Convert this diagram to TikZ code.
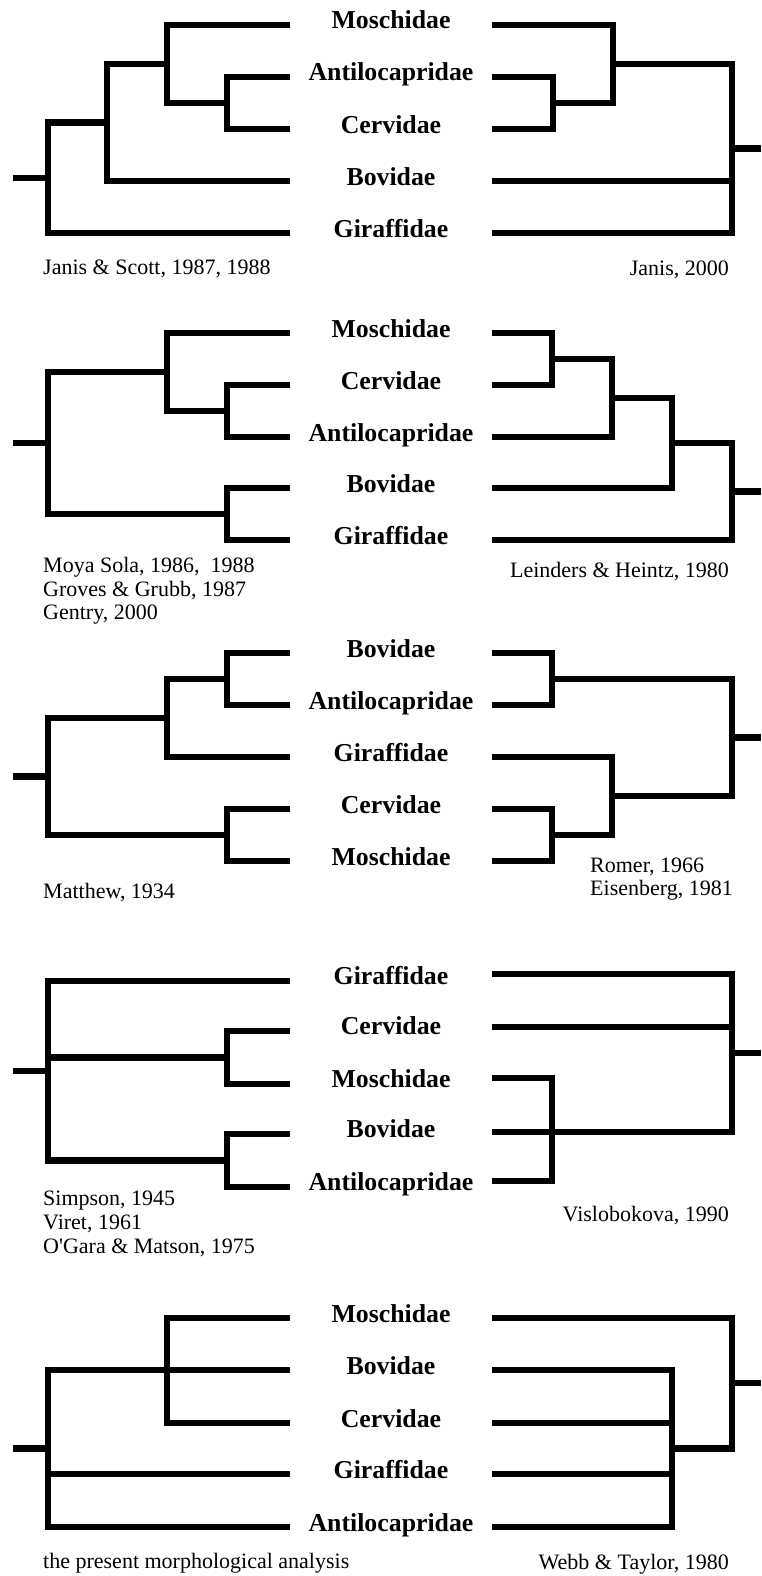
\documentclass[tikz,border=0pt]{standalone}
\usepackage{fontspec}
\setmainfont{Liberation Serif}
\tikzset{
  branch/.style={line width=6.5pt},
  taxon/.style={font=\fontsize{25.8}{30}\selectfont\bfseries,anchor=base,inner sep=0pt},
  cite/.style={font=\fontsize{22}{26}\selectfont,anchor=base west,inner sep=0pt},
  citeR/.style={cite,anchor=base east}
}

\begin{document}
\begin{tikzpicture}[x=1pt,y=-1pt]
  \useasboundingbox (0,0) rectangle (761,1576);

  % Janis & Scott / Janis
  \foreach \n/\y/\txt in {1/25/Moschidae,2/77/Antilocapridae,3/129/Cervidae,4/181/Bovidae,5/233/Giraffidae}{
    \coordinate (aL\n) at (290,\y);
    \coordinate (aR\n) at (492,\y);
    \node[taxon] (aT\n) at (391,\y+4) {\txt};
  }
  \coordinate (aL6) at (227,103);
  \coordinate (aL7) at (167,64);
  \coordinate (aL8) at (107,122.5);
  \coordinate (aL9) at (48,178);
  \coordinate (aL0) at (13,178);
  \draw[branch] (aL2) -| (aL6) |- (aL3);
  \draw[branch] (aL1) -| (aL7) |- (aL6);
  \draw[branch] (aL7) -| (aL8) |- (aL4);
  \draw[branch] (aL8) -| (aL9) |- (aL5);
  \draw[branch] (aL0) -- (aL9);
  \coordinate (aR6) at (553,103);
  \coordinate (aR7) at (613,64);
  \coordinate (aR8) at (732,148.5);
  \coordinate (aR0) at (761,148.5);
  \draw[branch] (aR2) -| (aR6) |- (aR3);
  \draw[branch] (aR1) -| (aR7) |- (aR6);
  \draw[branch] (aR7) -| (aR8) |- (aR5);
  \draw[branch] (aR4) -- (aR4 -| aR8);
  \draw[branch] (aR8) -- (aR0);
  \node[cite] (aC1) at (43,274) {Janis \& Scott, 1987, 1988};
  \node[citeR] (aC2) at (729,275) {Janis, 2000};

  % Moya Sola / Leinders & Heintz
  \foreach \n/\y/\txt in {1/333/Moschidae,2/385/Cervidae,3/437/Antilocapridae,4/488/Bovidae,5/540/Giraffidae}{
    \coordinate (bL\n) at (290,\y);
    \coordinate (bR\n) at (492,\y);
    \node[taxon] (bT\n) at (391,\y+4) {\txt};
  }
  \coordinate (bL6) at (227,411);
  \coordinate (bL7) at (167,372);
  \coordinate (bL8) at (227,514);
  \coordinate (bL9) at (48,443);
  \coordinate (bL0) at (13,443);
  \draw[branch] (bL2) -| (bL6) |- (bL3);
  \draw[branch] (bL1) -| (bL7) |- (bL6);
  \draw[branch] (bL4) -| (bL8) |- (bL5);
  \draw[branch] (bL7) -| (bL9) |- (bL8);
  \draw[branch] (bL0) -- (bL9);
  \coordinate (bR6) at (552,359);
  \coordinate (bR7) at (612,398);
  \coordinate (bR8) at (672,443);
  \coordinate (bR9) at (732,491.5);
  \coordinate (bR0) at (761,491.5);
  \draw[branch] (bR1) -| (bR6) |- (bR2);
  \draw[branch] (bR6) -| (bR7) |- (bR3);
  \draw[branch] (bR7) -| (bR8) |- (bR4);
  \draw[branch] (bR8) -| (bR9) |- (bR5);
  \draw[branch] (bR9) -- (bR0);
  \node[cite] (bC1) at (43,572) {Moya Sola, 1986,\ \ 1988};
  \node[cite] (bC2) at (43,596) {Groves \& Grubb, 1987};
  \node[cite] (bC3) at (43,619) {Gentry, 2000};
  \node[citeR] (bC4) at (729,577) {Leinders \& Heintz, 1980};

  % Matthew / Romer, Eisenberg
  \foreach \n/\y/\txt in {1/653/Bovidae,2/705/Antilocapridae,3/757/Giraffidae,4/809/Cervidae,5/861/Moschidae}{
    \coordinate (cL\n) at (290,\y);
    \coordinate (cR\n) at (492,\y);
    \node[taxon] (cT\n) at (391,\y+4) {\txt};
  }
  \coordinate (cL6) at (227,679);
  \coordinate (cL7) at (167,718);
  \coordinate (cL8) at (227,835);
  \coordinate (cL9) at (48,776.5);
  \coordinate (cL0) at (13,776.5);
  \draw[branch] (cL1) -| (cL6) |- (cL2);
  \draw[branch] (cL6) -| (cL7) |- (cL3);
  \draw[branch] (cL4) -| (cL8) |- (cL5);
  \draw[branch] (cL7) -| (cL9) |- (cL8);
  \draw[branch] (cL0) -- (cL9);
  \coordinate (cR6) at (552,679);
  \coordinate (cR7) at (552,835);
  \coordinate (cR8) at (612,796);
  \coordinate (cR9) at (732,737.5);
  \coordinate (cR0) at (761,737.5);
  \draw[branch] (cR1) -| (cR6) |- (cR2);
  \draw[branch] (cR4) -| (cR7) |- (cR5);
  \draw[branch] (cR3) -| (cR8) |- (cR7);
  \draw[branch] (cR6) -| (cR9) |- (cR8);
  \draw[branch] (cR9) -- (cR0);
  \node[cite] (cC1) at (43,898) {Matthew, 1934};
  \node[cite] (cC2) at (590,872) {Romer, 1966};
  \node[cite] (cC3) at (590,895) {Eisenberg, 1981};

  % Simpson, Viret, O'Gara & Matson / Vislobokova
  \foreach \n/\y/\z/\txt in {1/981/974/Giraffidae,2/1031/1027/Cervidae,3/1084/1078/Moschidae,4/1134/1132/Bovidae,5/1187/1181/Antilocapridae}{
    \coordinate (dL\n) at (290,\y);
    \coordinate (dR\n) at (492,\z);
    \node[taxon] (dT\n) at (391,\y+3) {\txt};
  }
  \coordinate (dL6) at (227,1057.5);
  \coordinate (dL7) at (227,1160.5);
  \coordinate (dL8) at (48,1071);
  \coordinate (dL0) at (13,1071);
  \draw[branch] (dL2) -| (dL6) |- (dL3);
  \draw[branch] (dL4) -| (dL7) |- (dL5);
  \draw[branch] (dL1) -| (dL8) |- (dL7);
  \draw[branch] (dL6) -- (dL6 -| dL8);
  \draw[branch] (dL0) -- (dL8);
  \coordinate (dR6) at (552,1132);
  \coordinate (dR7) at (732,1053);
  \coordinate (dR0) at (761,1053);
  \draw[branch] (dR3) -| (dR6) |- (dR5);
  \draw[branch] (dR1) -| (dR7) |- (dR4);
  \draw[branch] (dR2) -- (dR2 -| dR7);
  \draw[branch] (dR7) -- (dR0);
  \node[cite] (dC1) at (43,1205) {Simpson, 1945};
  \node[cite] (dC2) at (43,1229) {Viret, 1961};
  \node[cite] (dC3) at (43,1253) {O\textquotesingle Gara \& Matson, 1975};
  \node[citeR] (dC4) at (729,1221) {Vislobokova, 1990};

  % present analysis / Webb & Taylor
  \foreach \n/\y/\txt in {1/1318/Moschidae,2/1370/Bovidae,3/1423/Cervidae,4/1474/Giraffidae,5/1527/Antilocapridae}{
    \coordinate (eL\n) at (290,\y);
    \coordinate (eR\n) at (492,\y);
    \node[taxon] (eT\n) at (391,\y+4) {\txt};
  }
  \coordinate (eL6) at (167,1370);
  \coordinate (eL7) at (48,1448.5);
  \coordinate (eL0) at (13,1448.5);
  \draw[branch] (eL1) -| (eL6) |- (eL3);
  \draw[branch] (eL2) -- (eL6);
  \draw[branch] (eL6) -| (eL7) |- (eL5);
  \draw[branch] (eL4) -- (eL4 -| eL7);
  \draw[branch] (eL0) -- (eL7);
  \coordinate (eR6) at (672,1448.5);
  \coordinate (eR7) at (732,1383);
  \coordinate (eR0) at (761,1383);
  \draw[branch] (eR2) -| (eR6) |- (eR5);
  \draw[branch] (eR3) -- (eR3 -| eR6);
  \draw[branch] (eR4) -- (eR4 -| eR6);
  \draw[branch] (eR1) -| (eR7) |- (eR6);
  \draw[branch] (eR7) -- (eR0);
  \node[cite] (eC1) at (43,1568) {the present morphological analysis};
  \node[citeR] (eC2) at (729,1569) {Webb \& Taylor, 1980};
\end{tikzpicture}
\end{document}
